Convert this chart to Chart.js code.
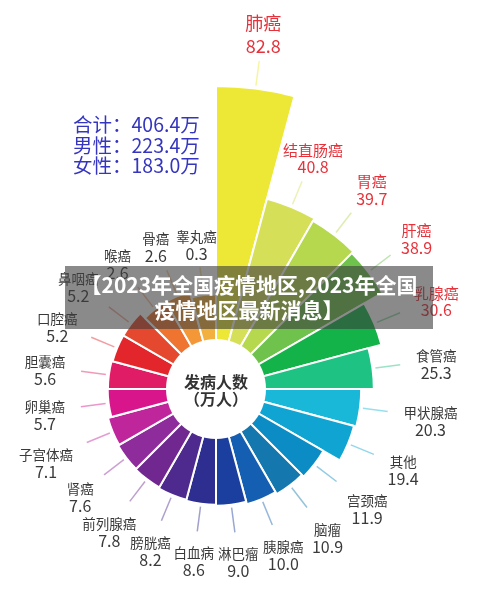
<!DOCTYPE html>
<html>
<head>
<meta charset="utf-8">
<script src="https://cdn.jsdelivr.net/npm/chart.js@4"></script>
<style>
  html, body { margin: 0; padding: 0; width: 500px; height: 596px; overflow: hidden; background: #fff; }
  #wrap { position: relative; width: 500px; height: 596px; overflow: hidden; }
  #roseChart { position: absolute; left: -87px; top: 0; }
  .summary { position: absolute; left: 73px; top: 114px; font: 19.5px/20.5px "Noto Sans CJK SC", sans-serif; color: #3535c0; white-space: nowrap; }
  .banner { position: absolute; left: 65px; top: 266px; width: 368px; height: 63px; background: rgba(60,60,60,0.6);
            color: #fff; font: bold 21px/25px "Noto Sans CJK SC", sans-serif; text-align: center; box-sizing: border-box; padding-top: 6px; white-space: nowrap; }
</style>
</head>
<body>
<div id="wrap">
  <canvas id="roseChart" width="606" height="692"></canvas>
  <div class="summary" id="summary"></div>
  <div class="banner">【2023年全国疫情地区,2023年全国<br>疫情地区最新消息】</div>
</div>
<script>
// 2023 cancer incidence in China, 10k persons
const categories = ['肺癌', '结直肠癌', '胃癌', '肝癌', '乳腺癌', '食管癌', '甲状腺癌', '其他', '宫颈癌', '脑瘤', '胰腺癌', '淋巴瘤',
                    '白血病', '膀胱癌', '前列腺癌', '肾癌', '子宫体癌', '卵巢癌', '胆囊癌', '口腔癌', '鼻咽癌', '喉癌', '骨癌', '睾丸癌'];
const values = [82.8, 40.8, 39.7, 38.9, 30.6, 25.3, 20.3, 19.4, 11.9, 10.9, 10.0, 9.0,
                8.6, 8.2, 7.8, 7.6, 7.1, 5.7, 5.6, 5.2, 5.2, 2.6, 2.6, 0.3];
const summaryLabels = ['合计', '男性', '女性'];
const summaryValues = [406.4, 223.4, 183.0];

const segmentColors = ['#ece835', '#d6df58', '#b5d84e', '#6fc34c', '#14b34a', '#1ec283', '#19b8d8', '#0fa4d2',
                       '#0c8cc4', '#1477ae', '#155fb2', '#1b3f9e', '#2e2d90', '#4e2a8e', '#702890', '#8f2c9c',
                       '#c0269c', '#d9158c', '#e11c66', '#e2262c', '#e4482e', '#ee7430', '#f39737', '#f2b03e'];
const highlightCount = 5;   // top five drawn in red
const radialFloor = -37.2;  // value at the centre, keeps small slices visible
const maxValue = Math.max(...values);

document.getElementById('summary').innerHTML = summaryLabels
    .map((l, i) => `${l}：${summaryValues[i].toFixed(1)}万`).join('<br>');

const roseLabels = {
    id: 'roseLabels',
    afterDatasetsDraw(chart) {
        const ctx = chart.ctx;
        const scale = chart.scales.r;
        const cx = scale.xCenter, cy = scale.yCenter;

        ctx.save();
        // white hole in the middle
        ctx.beginPath();
        ctx.arc(cx, cy, 50, 0, Math.PI * 2);
        ctx.fillStyle = '#fff';
        ctx.fill();
        ctx.fillStyle = '#333';
        ctx.font = 'bold 16px "Noto Sans CJK SC"';
        ctx.textAlign = 'center';
        ctx.textBaseline = 'middle';
        ctx.fillText('发病人数', cx, cy - 7);
        ctx.fillText('（万人）', cx, cy + 10);

        const meta = chart.getDatasetMeta(0);
        meta.data.forEach((arc, i) => {
            const p = arc.getProps(['startAngle', 'endAngle', 'outerRadius'], true);
            const mid = (p.startAngle + p.endAngle) / 2;
            const ux = Math.cos(mid), uy = Math.sin(mid);
            const r = p.outerRadius;

            // leader line
            ctx.globalAlpha = 0.45;
            ctx.strokeStyle = segmentColors[i];
            ctx.lineWidth = 1.5;
            ctx.beginPath();
            ctx.moveTo(cx + ux * (r + 3), cy + uy * (r + 3));
            ctx.lineTo(cx + ux * (r + 28), cy + uy * (r + 28));
            ctx.stroke();
            ctx.globalAlpha = 1;

            const big = values[i] === maxValue;
            const red = i < highlightCount;
            const nameFont = (big ? 18 : red ? 15 : 13.5) + 'px "Noto Sans CJK SC"';
            const valueFont = (big ? 18 : 16) + 'px "Noto Sans CJK SC"';
            const valueText = values[i].toFixed(1);
            ctx.font = nameFont;
            const w1 = ctx.measureText(categories[i]).width;
            ctx.font = valueFont;
            const w2 = ctx.measureText(valueText).width;
            const w = Math.max(w1, w2);
            const h = big ? 44 : 36;
            const ex = Math.abs(ux) > 0.01 ? w / 2 / Math.abs(ux) : Infinity;
            const ey = Math.abs(uy) > 0.01 ? h / 2 / Math.abs(uy) : Infinity;
            const d = r + 28 + 8 + 8 * ux * ux + Math.min(ex, ey);
            const tx = cx + ux * d, ty = cy + uy * d + 4;
            const half = big ? 11.5 : 8.5;

            ctx.fillStyle = red ? '#e6323b' : '#3a3a3a';
            ctx.font = nameFont;
            ctx.fillText(categories[i], tx, ty - half);
            ctx.font = valueFont;
            ctx.fillText(valueText, tx, ty + half);
        });
        ctx.restore();
    }
};

const ctx = document.getElementById('roseChart').getContext('2d');
const roseChart = new Chart(ctx, {
    type: 'polarArea',
    data: {
        labels: categories,
        datasets: [{
            data: values,
            backgroundColor: segmentColors,
            borderColor: '#fff',
            borderWidth: 2
        }]
    },
    options: {
        responsive: false,
        animation: false,
        layout: { padding: { top: 86 } },
        scales: {
            r: {
                display: false,
                min: radialFloor,
                max: maxValue
            }
        },
        plugins: {
            legend: { display: false },
            tooltip: { enabled: false }
        }
    },
    plugins: [roseLabels]
});
</script>
</body>
</html>
